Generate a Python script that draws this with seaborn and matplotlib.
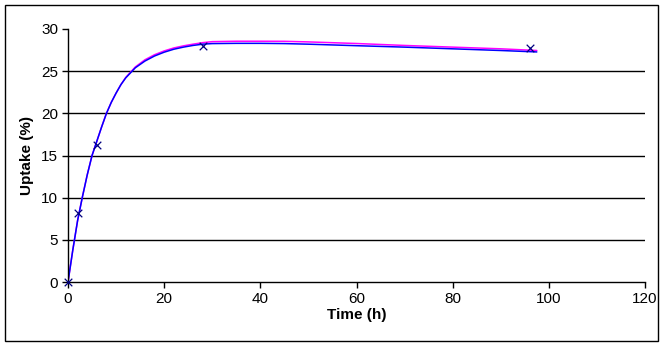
import numpy as np
import pandas as pd
import matplotlib
matplotlib.use('Agg')
import matplotlib.pyplot as plt
import seaborn as sns
from matplotlib.patches import Rectangle

# Measured uptake points
t_obs = [0, 2, 6, 28, 96]
uptake_obs = [0, 8.2, 16.25, 28.0, 27.7]

# Fitted curves
t_fit = [0, 1, 2, 3, 4, 5, 6, 7, 8, 9, 10, 11, 12, 14, 16, 18, 20, 22, 24, 26, 28,
         30, 35, 40, 45, 50, 60, 70, 80, 90, 97.5]
fit_blue = [0, 3.8, 7.3, 10.1, 12.7, 15.0, 16.7, 18.4, 20.0, 21.3, 22.4, 23.4, 24.2,
            25.4, 26.2, 26.8, 27.25, 27.6, 27.85, 28.05, 28.2, 28.27, 28.3, 28.3,
            28.27, 28.2, 28.02, 27.85, 27.65, 27.45, 27.28]
fit_magenta = [0, 3.8, 7.3, 10.1, 12.7, 15.0, 16.7, 18.4, 20.0, 21.3, 22.4, 23.4, 24.25,
               25.5, 26.35, 26.95, 27.4, 27.75, 28.0, 28.2, 28.38, 28.5, 28.55, 28.55,
               28.54, 28.47, 28.28, 28.05, 27.85, 27.65, 27.45]

obs = pd.DataFrame({'t': t_obs, 'uptake': uptake_obs})
fit = pd.DataFrame({'t': t_fit, 'blue': fit_blue, 'magenta': fit_magenta})

sns.set_style('white')
plt.rcParams['font.family'] = ['Liberation Sans', 'DejaVu Sans']
plt.rcParams['text.color'] = 'black'
plt.rcParams['axes.labelcolor'] = 'black'
plt.rcParams['xtick.color'] = 'black'
plt.rcParams['ytick.color'] = 'black'

fig = plt.figure(figsize=(6.64, 3.5), dpi=100)
ax = fig.add_axes([68/664, 1 - 282/350, (645 - 68)/664, (282 - 29)/350])

sns.lineplot(data=fit, x='t', y='magenta', color='#FF00FF', lw=1.1, ax=ax)
sns.lineplot(data=fit, x='t', y='blue', color='#0000FF', lw=1.1, ax=ax)
sns.scatterplot(data=obs, x='t', y='uptake', marker='x', color='#000080',
                s=30, linewidth=0.9, ax=ax, zorder=5, clip_on=False)

ax.set_xlim(0, 120)
ax.set_ylim(0, 30)
ax.set_xticks(range(0, 121, 20))
ax.set_yticks(range(0, 31, 5))
ax.grid(axis='y', color='black', lw=1.0)
ax.get_ygridlines()[-1].set_visible(False)
ax.get_ygridlines()[0].set_visible(False)
ax.set_axisbelow(True)

for side in ['top', 'right']:
    ax.spines[side].set_visible(False)
for side in ['left', 'bottom']:
    ax.spines[side].set_color('black')
    ax.spines[side].set_linewidth(1.0)

ax.tick_params(axis='both', direction='out', length=4, width=1, color='black',
               labelcolor='black', labelsize=11, pad=3, bottom=True, left=True)
ax.set_xlabel('Time (h)', fontsize=11, fontweight='bold', labelpad=2, color='black')
ax.set_ylabel('Uptake (%)', fontsize=11, fontweight='bold', labelpad=5, color='black')

fig.patches.append(Rectangle((5/664, 1 - 341/350), 653/664, 336/350,
                             transform=fig.transFigure, fill=False,
                             edgecolor='black', lw=1.0))

fig.savefig('out.png', dpi=100)
